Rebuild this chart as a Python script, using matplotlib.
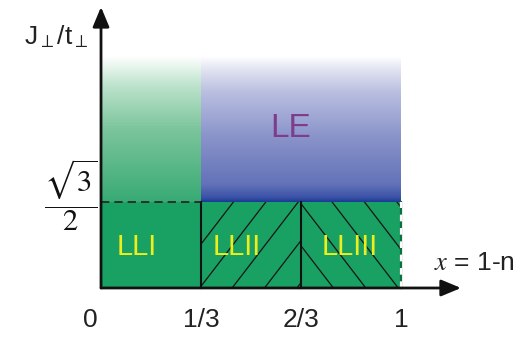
import numpy as np
import matplotlib
matplotlib.use("Agg")
import matplotlib.pyplot as plt
from matplotlib.colors import LinearSegmentedColormap
from matplotlib.patches import Rectangle
import matplotlib.transforms as mtransforms

plt.rcParams["font.family"] = ["Liberation Sans", "DejaVu Sans"]
plt.rcParams["mathtext.fontset"] = "stix"

# phase boundaries
X_BREAKS = [0.0, 1 / 3, 2 / 3, 1.0]
Y_CRIT = np.sqrt(3) / 2          # J_perp / t_perp boundary
Y_TOP = 2.33                     # top of shaded area
LOW_PHASES = ["LLI", "LLII", "LLIII"]
HIGH_PHASE = "LE"

XTICKS = [0, 1 / 3, 2 / 3, 1]
XTICK_LABELS = ["0", "1/3", "2/3", "1"]

GREEN = "#19a063"
YELLOW = "#eeee1c"

fig = plt.figure(figsize=(5.25, 3.37), dpi=100)
ax = fig.add_axes([0, 0, 1, 1])
XLIM = (-0.3367, 1.4133)
YLIM = (-0.4935, 2.90)


def gradient(ax, x0, x1, y0, y1, stops):
    cmap = LinearSegmentedColormap.from_list("g", stops)
    t = np.linspace(0, 1, 256)[:, None]
    ax.imshow(cmap(t), extent=[x0, x1, y0, y1], origin="lower",
              aspect="auto", interpolation="bilinear", zorder=1)


def hatch(ax, x0, x1, y0, y1, direction, spacing=0.108, slope=3.93):
    # family of parallel lines clipped to the box
    clip = Rectangle((x0, y0), x1 - x0, y1 - y0, transform=ax.transData)
    h = y1 - y0
    span = h / slope
    starts = np.arange(x0 - span - spacing, x1 + span + spacing, spacing)
    for s in starts:
        if direction > 0:
            xs, ys = [s, s + span], [y0, y1]
        else:
            xs, ys = [s, s + span], [y1, y0]
        ln, = ax.plot(xs, ys, color="#151515", lw=0.9, zorder=3)
        ln.set_clip_path(clip)


# upper regions
gradient(ax, X_BREAKS[0], X_BREAKS[1], Y_CRIT, Y_TOP,
         [(0.0, "#38aa74"), (0.5, "#7cc59c"), (0.8, "#bde3cc"), (1.0, "#ffffff")])
gradient(ax, X_BREAKS[1], X_BREAKS[3], Y_CRIT, Y_TOP,
         [(0.0, "#1b3a95"), (0.03, "#3a52a6"), (0.12, "#6372b8"),
          (0.45, "#8a94ca"), (0.75, "#b9bee0"), (0.92, "#e4e6f3"), (1.0, "#ffffff")])

# lower regions
for i in range(3):
    ax.add_patch(Rectangle((X_BREAKS[i], 0), X_BREAKS[i + 1] - X_BREAKS[i], Y_CRIT,
                           facecolor=GREEN, edgecolor="none", zorder=2))
hatch(ax, X_BREAKS[1], X_BREAKS[2], 0, Y_CRIT, +1)
hatch(ax, X_BREAKS[2], X_BREAKS[3], 0, Y_CRIT, -1)

# boundaries
for xb in X_BREAKS[1:3]:
    ax.plot([xb, xb], [0, Y_CRIT], color="#111111", lw=1.5, zorder=4)
ax.plot([X_BREAKS[0], X_BREAKS[1]], [Y_CRIT, Y_CRIT], color="#222222", lw=1.2,
        ls=(0, (5, 3)), zorder=4)
ax.plot([1, 1], [0, Y_CRIT], color="#0f6e3e", lw=1.6, zorder=4)
ax.plot([1, 1], [0, Y_CRIT], color="white", lw=1.6, ls=(0, (3, 3)), zorder=4)

# axes with arrow heads
arrow = dict(arrowstyle="-|>,head_length=0.6,head_width=0.25", lw=2.0,
             color="#111111", mutation_scale=20, shrinkA=0, shrinkB=0)
ax.annotate("", xy=(0, 2.83), xytext=(0, 0), arrowprops=arrow, zorder=5)
ax.annotate("", xy=(1.2, 0), xytext=(0, 0), arrowprops=arrow, zorder=5)

# labels
for xc, name in zip([0.12, 0.453, 0.83], LOW_PHASES):
    ax.text(xc, 0.41, name, color=YELLOW, fontsize=21, ha="center", va="center", zorder=6)
ax.text(0.633, 1.61, HIGH_PHASE, color="#7d3c8c", fontsize=24, ha="center",
        va="center", zorder=6)

for i, (xt, lab) in enumerate(zip(XTICKS, XTICK_LABELS)):
    off = mtransforms.offset_copy(ax.transData, fig=fig, x=-8 if i == 0 else 0,
                                  y=0, units="points")
    ax.text(xt, -0.32, lab, fontsize=19, ha="center", va="center", transform=off,
            color="#222222")

ax.text(-0.15, 2.53, r"J$_{\perp}$/t$_{\perp}$", fontsize=19,
        ha="center", va="center", color="#222222")
ax.text(-0.103, Y_CRIT + 0.065, r"$\dfrac{\sqrt{3}}{2}$", fontsize=22, ha="center",
        va="center", color="#111111")
ax.text(1.11, 0.18, r"$x$ = 1-n", fontsize=19, ha="left", va="baseline",
        color="#222222")

ax.set_xlim(*XLIM)
ax.set_ylim(*YLIM)
ax.axis("off")

fig.savefig("out.png", dpi=100)
